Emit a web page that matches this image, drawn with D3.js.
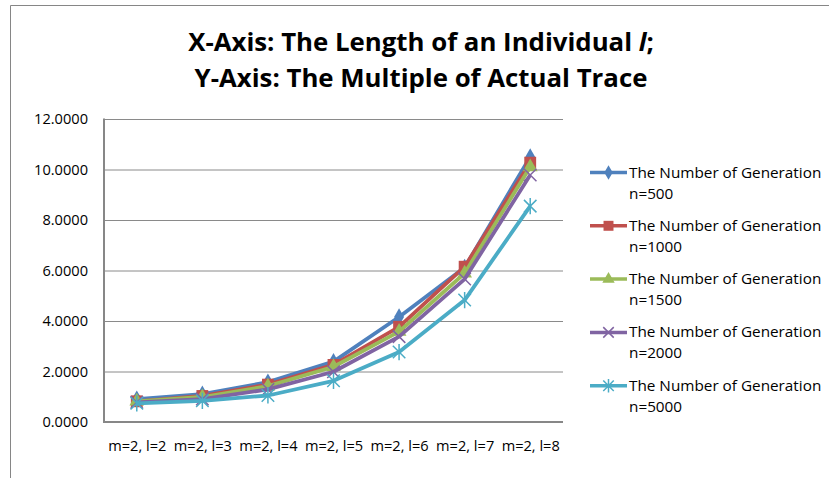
<!DOCTYPE html>
<html>
<head>
<meta charset="utf-8">
<script src="https://cdn.jsdelivr.net/npm/d3@7"></script>
<style>
  body { margin: 0; background: #fff; }
  svg { display: block; font-family: "Open Sans", "Liberation Sans", sans-serif; }
  .grid line { stroke: #8a8a8a; stroke-width: 1; }
  .grid .domain { display: none; }
  .axis .domain { display: none; }
  .axis text { fill: #000; }
</style>
</head>
<body>
<div id="chart"></div>
<script>
// Categories (x axis) and y ticks
var categories = ["m=2, l=2", "m=2, l=3", "m=2, l=4", "m=2, l=5", "m=2, l=6", "m=2, l=7", "m=2, l=8"];
var yTicks = [0, 2, 4, 6, 8, 10, 12];

// Series names and values
var seriesNames = ["n=500", "n=1000", "n=1500", "n=2000", "n=5000"];
var n500  = [0.91, 1.10, 1.58, 2.39, 4.16, 6.12, 10.50];
var n1000 = [0.82, 1.03, 1.48, 2.26, 3.77, 6.15, 10.27];
var n1500 = [0.82, 0.99, 1.42, 2.19, 3.58, 5.89, 10.10];
var n2000 = [0.78, 0.91, 1.29, 1.99, 3.38, 5.66, 9.78];
var n5000 = [0.74, 0.84, 1.05, 1.63, 2.77, 4.83, 8.55];

var colors = ["#4F81BD", "#C0504D", "#9BBB59", "#8064A2", "#4BACC6"];
var shapes = ["diamond", "square", "triangle", "x", "star"];
var series = [n500, n1000, n1500, n2000, n5000];

var W = 829, H = 478;
var pLeft = 104, pRight = 563, pTop = 119, pBottom = 422;
var FONT = "'Open Sans', 'Liberation Sans', sans-serif";

var svg = d3.select("#chart").append("svg")
  .attr("width", W).attr("height", H);

// Chart border (only left and top visible)
svg.append("path")
  .attr("d", "M10.5," + H + "V5.5H" + W)
  .attr("fill", "none").attr("stroke", "#868686").attr("stroke-width", 1);

// Title
var title = svg.append("text")
  .attr("text-anchor", "middle")
  .attr("font-weight", "bold")
  .attr("font-size", 25.8)
  .attr("fill", "#000");
var t1 = title.append("tspan").attr("x", 421).attr("y", 51);
t1.append("tspan").text("X-Axis: The Length of an Individual ");
t1.append("tspan").attr("font-style", "italic").text("l");
t1.append("tspan").text(";");
title.append("tspan").attr("x", 421).attr("y", 87).text("Y-Axis: The Multiple of Actual Trace");

// Scales
var x = d3.scalePoint().domain(categories).range([pLeft, pRight]).padding(0.5);
var y = d3.scaleLinear().domain([0, 12]).range([pBottom, pTop]);

// Gridlines
svg.append("g")
  .attr("class", "grid")
  .attr("transform", "translate(" + pLeft + ",0)")
  .call(d3.axisLeft(y).tickValues(yTicks).tickSize(-(pRight - pLeft)).tickFormat(""));

// Y axis labels
svg.append("g")
  .attr("class", "axis")
  .attr("transform", "translate(" + pLeft + ",0)")
  .call(d3.axisLeft(y).tickValues(yTicks).tickSize(0).tickPadding(16).tickFormat(d3.format(".4f")))
  .attr("font-family", FONT)
  .attr("font-size", 14.6);

// X axis labels
svg.append("g")
  .attr("class", "axis")
  .attr("transform", "translate(0," + pBottom + ")")
  .call(d3.axisBottom(x).tickSize(0).tickPadding(19))
  .attr("font-family", FONT)
  .attr("font-size", 14.6);

// Axis lines
svg.append("path")
  .attr("d", "M" + pLeft + "," + (pTop - 0.5) + "V" + pBottom + "H" + pRight)
  .attr("fill", "none").attr("stroke", "#878787").attr("stroke-width", 2);

// Marker drawing
function marker(g, shape, color, s) {
  if (shape === "diamond") {
    g.append("path").attr("d", d3.symbol(d3.symbolDiamond, s * s * 0.55)).attr("fill", color);
  } else if (shape === "square") {
    g.append("path").attr("d", d3.symbol(d3.symbolSquare, s * s * 0.9)).attr("fill", color);
  } else if (shape === "triangle") {
    g.append("path").attr("d", d3.symbol(d3.symbolTriangle, s * s * 0.6)).attr("fill", color);
  } else if (shape === "x") {
    var h = s / 2;
    g.append("path").attr("d", "M" + (-h) + "," + (-h) + "L" + h + "," + h + "M" + (-h) + "," + h + "L" + h + "," + (-h))
      .attr("stroke", color).attr("stroke-width", 1.5).attr("fill", "none");
  } else {
    var h2 = s / 2;
    g.append("path").attr("d", "M" + (-h2) + "," + (-h2) + "L" + h2 + "," + h2 + "M" + (-h2) + "," + h2 + "L" + h2 + "," + (-h2) + "M0," + (-h2 * 1.3) + "V" + (h2 * 1.3))
      .attr("stroke", color).attr("stroke-width", 1.5).attr("fill", "none");
  }
}

var line = d3.line()
  .x(function(d, i) { return x(categories[i]); })
  .y(function(d) { return y(d); });

series.forEach(function(vals, k) {
  var g = svg.append("g");
  g.append("path")
    .attr("d", line(vals))
    .attr("fill", "none")
    .attr("stroke", colors[k])
    .attr("stroke-width", 3.8)
    .attr("stroke-linejoin", "round");
  vals.forEach(function(v, i) {
    var m = g.append("g").attr("transform", "translate(" + x(categories[i]) + "," + y(v) + ")");
    marker(m, shapes[k], colors[k], 12.5);
  });
});

// Legend
var lg = svg.append("g");
seriesNames.forEach(function(name, k) {
  var yy = 172.5 + k * 53.3;
  lg.append("line")
    .attr("x1", 590).attr("x2", 627).attr("y1", yy).attr("y2", yy)
    .attr("stroke", colors[k]).attr("stroke-width", 3.5);
  var m = lg.append("g").attr("transform", "translate(608.5," + yy + ")");
  marker(m, shapes[k], colors[k], 10.5);
  var t = lg.append("text").attr("font-size", 15.3).attr("fill", "#000");
  t.append("tspan").attr("x", 629).attr("y", yy + 5).text("The Number of Generation");
  t.append("tspan").attr("x", 629).attr("y", yy + 26).text(name);
});
</script>
</body>
</html>
